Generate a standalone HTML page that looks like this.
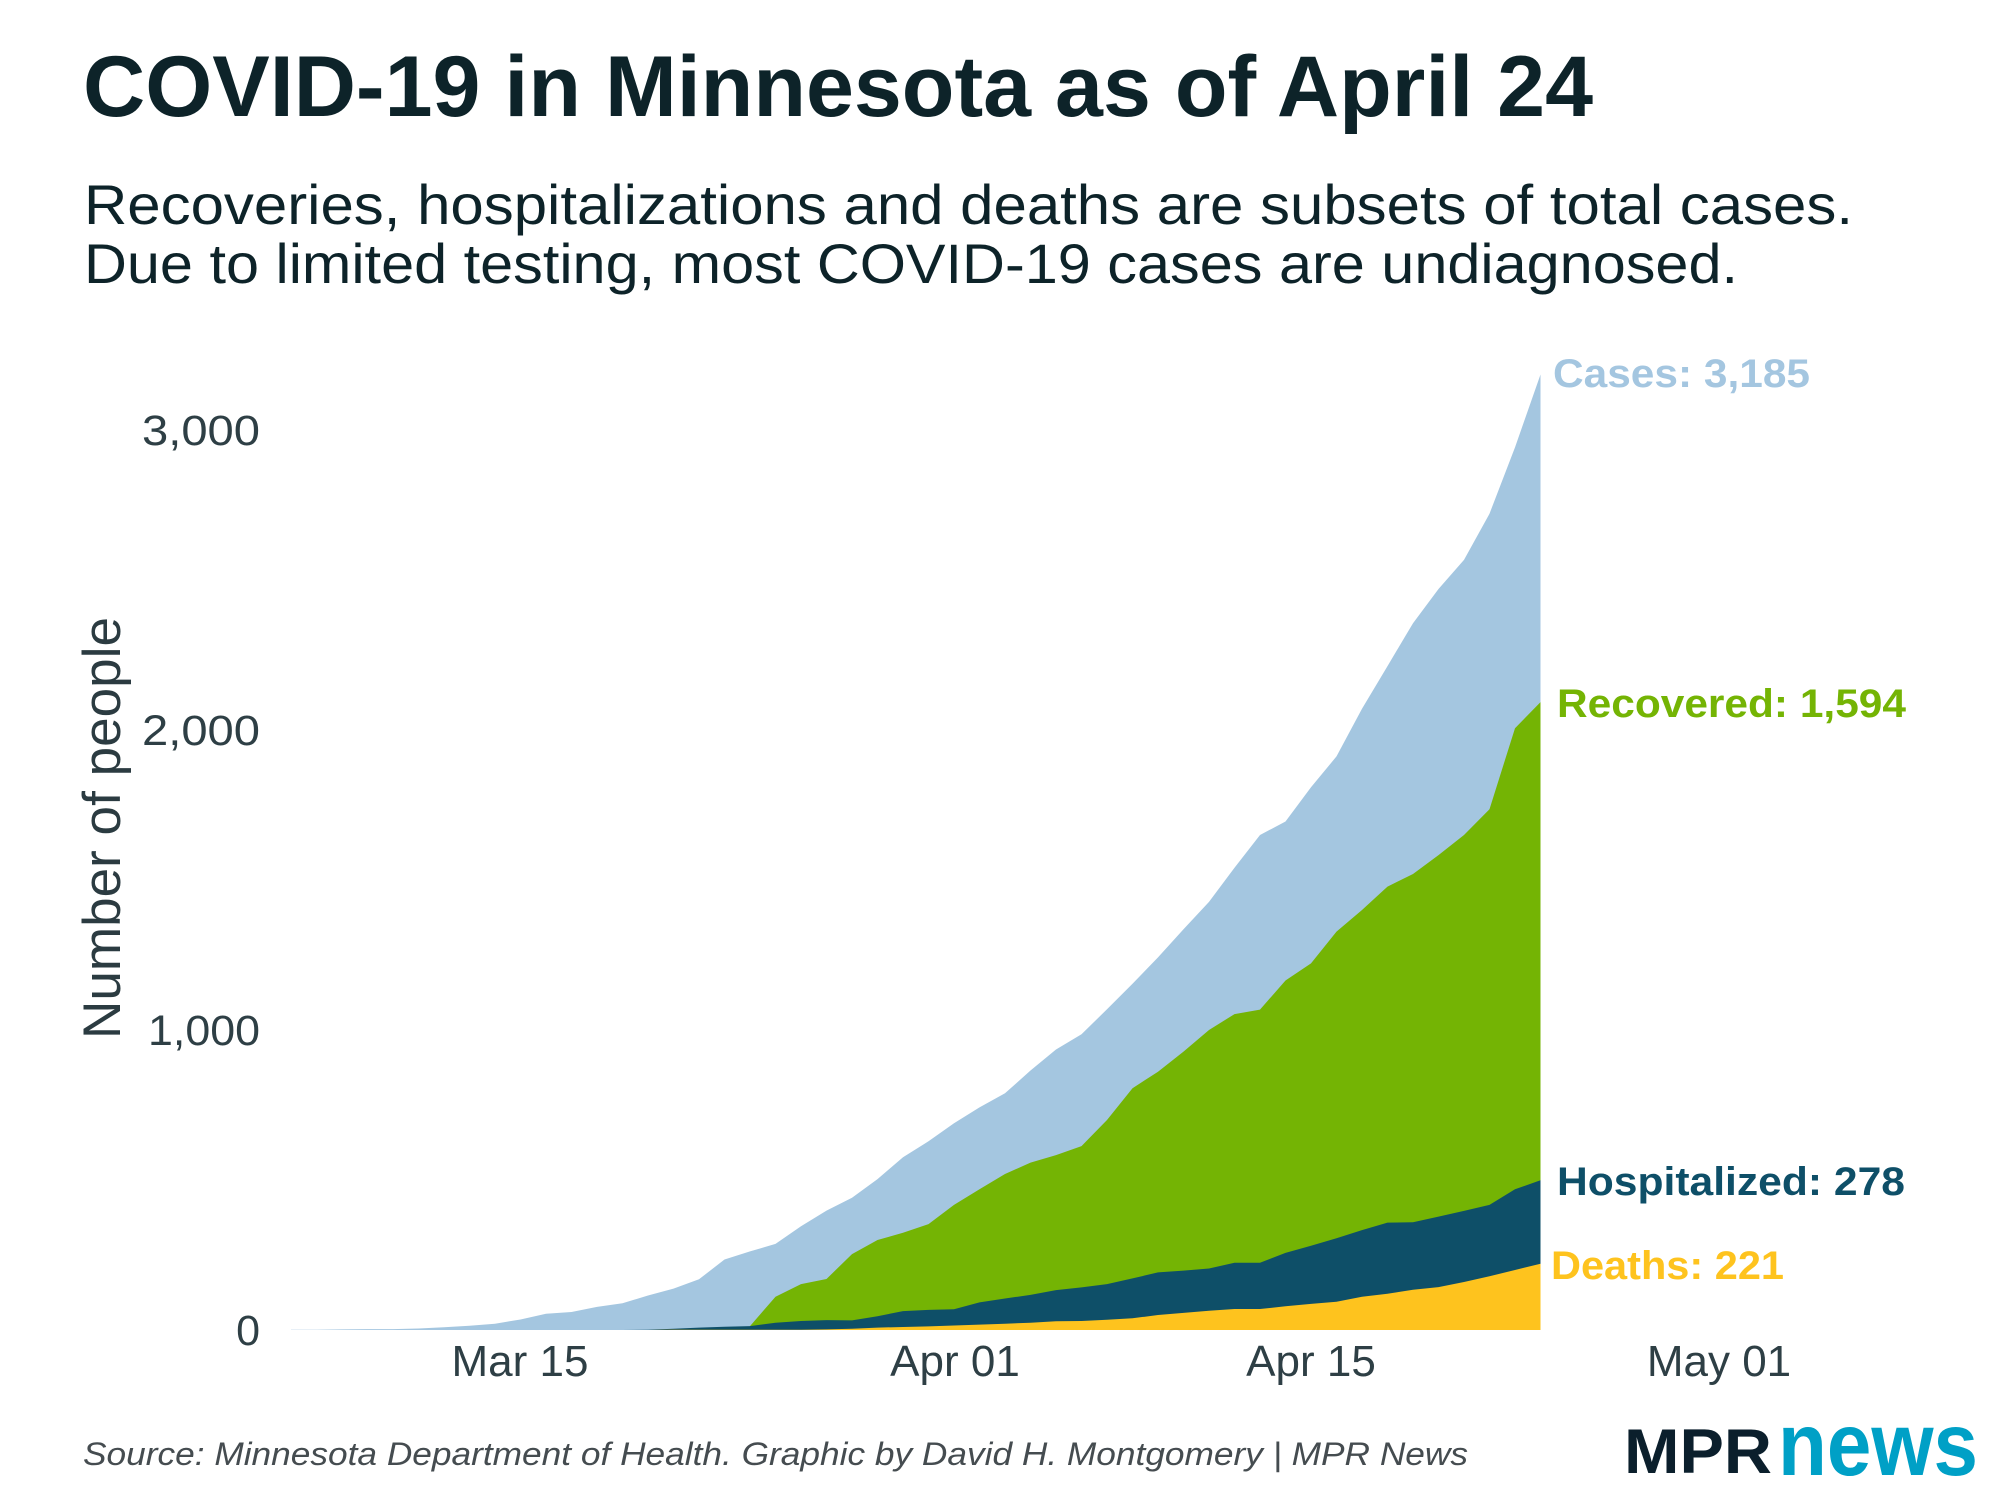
<!DOCTYPE html>
<html>
<head>
<meta charset="utf-8">
<style>
  html, body { margin: 0; padding: 0; background: #ffffff; }
  body { width: 2000px; height: 1500px; overflow: hidden; }
  svg { display: block; }
  text { font-family: "Liberation Sans", Arial, sans-serif; }
</style>
</head>
<body>
<svg width="2000" height="1500" viewBox="0 0 2000 1500" xmlns="http://www.w3.org/2000/svg">
  <rect x="0" y="0" width="2000" height="1500" fill="#ffffff"/>

  <!-- Title -->
  <text x="83" y="116" font-size="86" font-weight="bold" fill="#0d2329" textLength="1510" lengthAdjust="spacingAndGlyphs">COVID-19 in Minnesota as of April 24</text>

  <!-- Subtitle -->
  <text x="84" y="224" font-size="56" fill="#0d2329" textLength="1769" lengthAdjust="spacingAndGlyphs">Recoveries, hospitalizations and deaths are subsets of total cases.</text>
  <text x="84" y="283" font-size="56" fill="#0d2329" textLength="1654" lengthAdjust="spacingAndGlyphs">Due to limited testing, most COVID-19 cases are undiagnosed.</text>

  <!-- Areas: x = 291 + 25.5*i, y = 1330 - 0.3*v -->
  <g transform="translate(291,1330) scale(25.5,-0.3)">
    <!-- Cases (total) -->
    <polygon fill="#a4c6e0" points="0,0 0,1 1,1 2,2 3,3 4,3 5,5 6,9 7,14 8,21 9,35 10,54 11,60 12,77 13,89 14,115 15,138 16,169 17,235 18,262 19,287 20,346 21,398 22,441 23,503 24,576 25,629 26,689 27,742 28,789 29,865 30,935 31,986 32,1069 33,1154 34,1242 35,1336 36,1427 37,1541 38,1650 39,1695 40,1809 41,1912 42,2071 43,2213 44,2356 45,2470 46,2567 47,2721 48,2942 49,3185 49,0"/>
    <!-- Recovered (stacked top) -->
    <polygon fill="#74b404" points="18,0 18,13 19,111 20,153 21,170 22,253 23,300 24,324 25,353 26,417 27,469 28,520 29,558 30,583 31,613 32,700 33,806 34,861 35,928 36,1000 37,1053 38,1068 39,1165 40,1222 41,1328 42,1400 43,1478 44,1520 45,1583 46,1650 47,1736 48,2006 49,2093 49,0"/>
    <!-- Hospitalized (stacked top) -->
    <polygon fill="#0e4f68" points="13,0 14,1 15,4 16,8 17,11 18,13 19,24 20,30 21,33 22,32 23,46 24,63 25,67 26,69 27,92 28,105 29,117 30,133 31,142 32,153 33,172 34,192 35,198 36,205 37,224 38,224 39,257 40,281 41,306 42,333 43,358 44,359 45,378 46,397 47,417 48,469 49,499 49,0"/>
    <!-- Deaths -->
    <polygon fill="#fec31e" points="14,0 15,1 16,1 17,1 18,1 19,1 20,1 21,2 22,4 23,8 24,10 25,12 26,15 27,18 28,21 29,24 30,29 31,30 32,34 33,39 34,50 35,57 36,64 37,70 38,70 39,79 40,87 41,94 42,111 43,121 44,134 45,143 46,160 47,179 48,200 49,221 49,0"/>
  </g>

  <!-- Y axis tick labels -->
  <g font-size="43" fill="#2e3f45" text-anchor="end">
    <text x="260" y="445" textLength="118" lengthAdjust="spacingAndGlyphs">3,000</text>
    <text x="260" y="745" textLength="118" lengthAdjust="spacingAndGlyphs">2,000</text>
    <text x="260" y="1045" textLength="112" lengthAdjust="spacingAndGlyphs">1,000</text>
    <text x="260" y="1345">0</text>
  </g>

  <!-- Y axis title -->
  <text transform="translate(120,828) rotate(-90)" font-size="53" fill="#2b3b41" text-anchor="middle" textLength="422" lengthAdjust="spacingAndGlyphs">Number of people</text>

  <!-- X axis tick labels -->
  <g font-size="44" fill="#2e3f45" text-anchor="middle">
    <text x="520" y="1376">Mar 15</text>
    <text x="955" y="1376">Apr 01</text>
    <text x="1311" y="1376">Apr 15</text>
    <text x="1719" y="1376">May 01</text>
  </g>

  <!-- Series end labels -->
  <g font-size="40" font-weight="bold">
    <text x="1553" y="387" fill="#a4c6e0" textLength="257" lengthAdjust="spacingAndGlyphs">Cases: 3,185</text>
    <text x="1557" y="717" fill="#74b404" textLength="349" lengthAdjust="spacingAndGlyphs">Recovered: 1,594</text>
    <text x="1557" y="1195" fill="#0e4f68" textLength="348" lengthAdjust="spacingAndGlyphs">Hospitalized: 278</text>
    <text x="1551" y="1279" fill="#fec31e" textLength="233" lengthAdjust="spacingAndGlyphs">Deaths: 221</text>
  </g>

  <!-- Source -->
  <text x="83" y="1465" font-size="32" font-style="italic" fill="#454c50" textLength="1385" lengthAdjust="spacingAndGlyphs">Source: Minnesota Department of Health. Graphic by David H. Montgomery | MPR News</text>

  <!-- Logo -->
  <text x="1624" y="1473" font-size="63" font-weight="bold" fill="#0b1f2c" textLength="148" lengthAdjust="spacingAndGlyphs">MPR</text>
  <text x="1778" y="1475" font-size="89" font-weight="bold" fill="#00a0c6" textLength="200" lengthAdjust="spacingAndGlyphs">news</text>
</svg>
</body>
</html>
